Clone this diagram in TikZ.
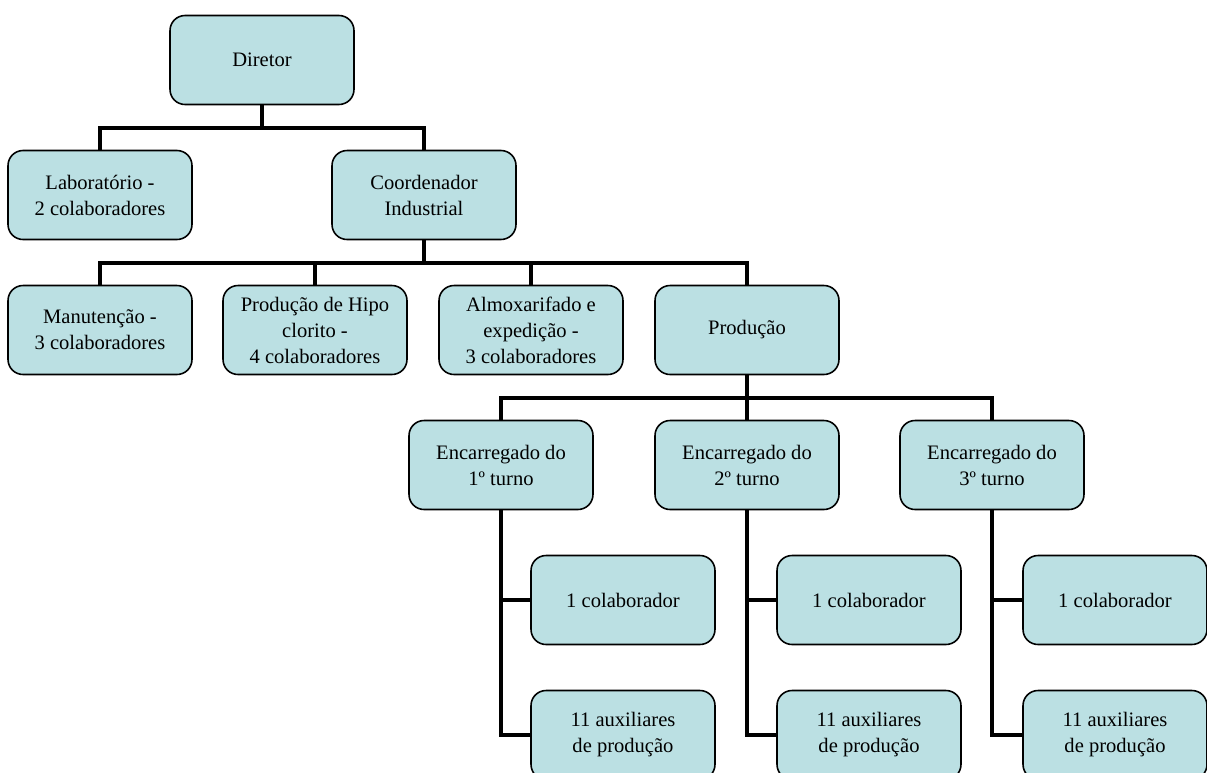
\documentclass[tikz,border=0pt]{standalone}
\usepackage{fontspec}
\setmainfont{Liberation Serif}
\definecolor{boxfill}{RGB}{187,224,227}
\begin{document}
\begin{tikzpicture}[x=0.02cm,y=-0.02cm,
  box/.style={draw=black,line width=0.9pt,fill=boxfill,rounded corners=0.3cm,
    minimum width=3.68cm,minimum height=1.78cm,inner sep=0pt,align=center,
    font=\fontsize{11.7}{14.8}\selectfont},
  conn/.style={draw=black,line width=2.3pt}]
\useasboundingbox (0,0) rectangle (1207,772);
\node[box] (diretor) at (262,60) {Diretor};
\node[box] (lab) at (100,195) {Laboratório -\\2 colaboradores};
\node[box] (coord) at (424,195) {Coordenador\\Industrial};
\node[box] (manut) at (100,330) {Manutenção -\\3 colaboradores};
\node[box] (hipo) at (315,330) {Produção de Hipo\\clorito -\\4 colaboradores};
\node[box] (almox) at (531,330) {Almoxarifado e\\expedição -\\3 colaboradores};
\node[box] (prod) at (747,330) {Produção};
\node[box] (enc1) at (501,465) {Encarregado do\\1º turno};
\node[box] (enc2) at (747,465) {Encarregado do\\2º turno};
\node[box] (enc3) at (992,465) {Encarregado do\\3º turno};
\node[box] (col1) at (623,600) {1 colaborador};
\node[box] (aux1) at (623,735) {11 auxiliares\\de produção};
\node[box] (col2) at (869,600) {1 colaborador};
\node[box] (aux2) at (869,735) {11 auxiliares\\de produção};
\node[box] (col3) at (1115,600) {1 colaborador};
\node[box] (aux3) at (1115,735) {11 auxiliares\\de produção};
\coordinate (bus1) at (262,128);
\coordinate (bus2) at (424,263);
\coordinate (bus3) at (747,398);
\draw[conn] (diretor.south) -- (bus1);
\draw[conn] (lab.north) |- (bus1) -| (coord.north);
\draw[conn] (coord.south) -- (bus2);
\draw[conn] (manut.north) |- (bus2) -| (prod.north);
\draw[conn] (hipo.north) -- (hipo.north |- bus2);
\draw[conn] (almox.north) -- (almox.north |- bus2);
\draw[conn] (prod.south) -- (bus3);
\draw[conn] (enc1.north) |- (bus3) -| (enc3.north);
\draw[conn] (enc2.north) -- (bus3);
\draw[conn] (enc1.south) |- (col1.west);
\draw[conn] (enc1.south) |- (aux1.west);
\draw[conn] (enc2.south) |- (col2.west);
\draw[conn] (enc2.south) |- (aux2.west);
\draw[conn] (enc3.south) |- (col3.west);
\draw[conn] (enc3.south) |- (aux3.west);
\end{tikzpicture}
\end{document}
